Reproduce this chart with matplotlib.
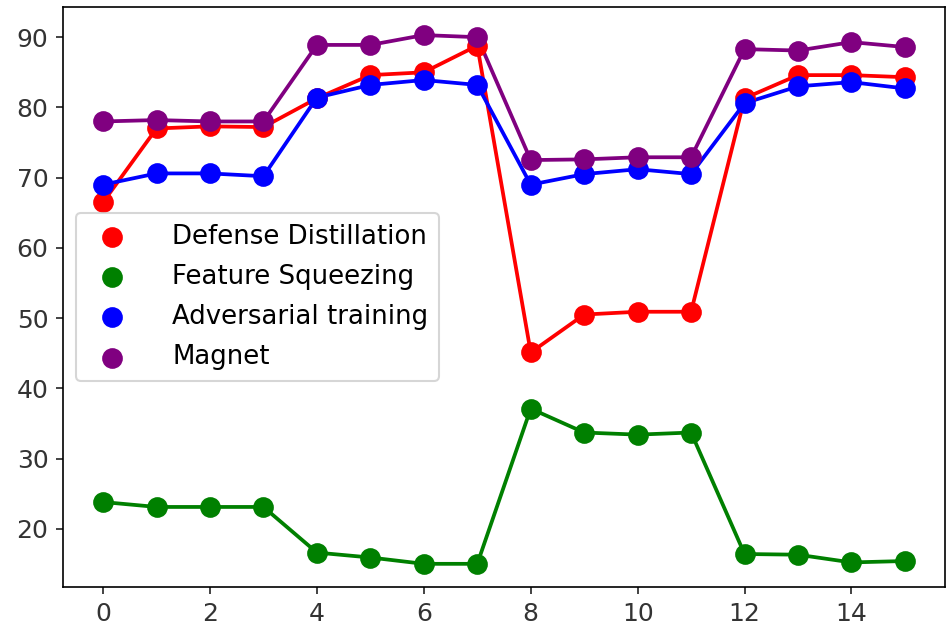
import matplotlib
matplotlib.use("Agg")
import matplotlib.pyplot as plt
import numpy as np

x = list(range(16))
defense_distillation = [66.5, 77.0, 77.3, 77.2, 81.3, 84.6, 85.0, 88.8,
                        45.1, 50.5, 50.9, 50.9, 81.3, 84.6, 84.6, 84.3]
feature_squeezing = [23.8, 23.1, 23.1, 23.1, 16.6, 15.9, 15.0, 15.0,
                     37.1, 33.7, 33.4, 33.7, 16.4, 16.3, 15.2, 15.4]
adversarial_training = [69.0, 70.6, 70.6, 70.2, 81.4, 83.2, 83.9, 83.2,
                        69.0, 70.5, 71.2, 70.5, 80.6, 83.0, 83.6, 82.7]
magnet = [78.0, 78.2, 78.0, 78.0, 88.9, 88.9, 90.3, 90.0,
          72.5, 72.6, 72.9, 72.9, 88.3, 88.1, 89.3, 88.6]

series = [
    ("Defense Distillation", defense_distillation, "red"),
    ("Feature Squeezing", feature_squeezing, "green"),
    ("Adversarial training", adversarial_training, "blue"),
    ("Magnet", magnet, "purple"),
]

dpi = 150
fig = plt.figure(figsize=(947 / dpi, 635 / dpi), dpi=dpi)
ax = fig.add_axes([63 / 947, 1 - 587 / 635, (945 - 63) / 947, (587 - 7) / 635])

for label, vals, color in series:
    ax.scatter(x, vals, color=color, s=80, label=label, zorder=3)
    ax.plot(x, vals, color=color, linewidth=1.8, zorder=2)

ax.set_xticks([0, 2, 4, 6, 8, 10, 12, 14])
ax.set_yticks([20, 30, 40, 50, 60, 70, 80, 90])
ax.set_xlim(-0.75, 15.75)
ax.set_ylim(11.7, 94.3)
ax.tick_params(labelsize=12, colors="#222222", labelcolor="#333333")
ax.legend(loc="center left", fontsize=12.5, handletextpad=1.3, labelspacing=0.55)

fig.savefig("out.png", dpi=dpi)
